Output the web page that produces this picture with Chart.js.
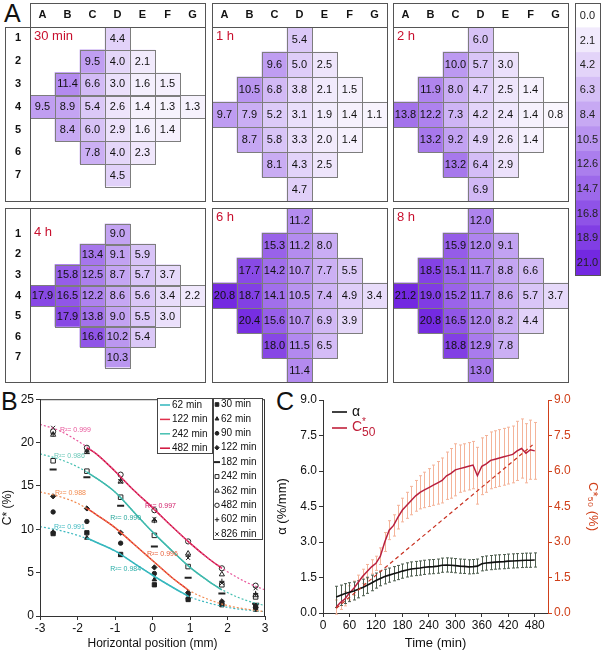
<!DOCTYPE html>
<html><head><meta charset="utf-8">
<script src="https://cdn.jsdelivr.net/npm/chart.js@4.4.0/dist/chart.umd.min.js"></script>
<style>
body{margin:0;background:#fff;width:602px;height:651px;position:relative;overflow:hidden;font-family:"Liberation Sans",Arial,sans-serif;}
canvas,.box,.big,.hdr{position:absolute;}
.box{border:1.5px solid #555;box-sizing:border-box;pointer-events:none;}
.hdr{border-bottom:1.5px solid #555;box-sizing:border-box;pointer-events:none;}
.big{font-size:25px;line-height:25px;color:#111;}
</style></head><body>
<div class="big" style="left:4px;top:1px">A</div>
<div class="big" style="left:1px;top:389px">B</div>
<div class="big" style="left:276px;top:389px">C</div>
<script>
// ---------------- DATA ----------------
const colLabels = ['A','B','C','D','E','F','G'];
const rowLabels = ['1','2','3','4','5','6','7'];
const panelTitles = ['30 min','1 h','2 h','4 h','6 h','8 h'];
const heat30 = [
 [null,null,null,4.4,null,null,null],
 [null,null,9.5,4.0,2.1,null,null],
 [null,11.4,6.6,3.0,1.6,1.5,null],
 [9.5,8.9,5.4,2.6,1.4,1.3,1.3],
 [null,8.4,6.0,2.9,1.6,1.4,null],
 [null,null,7.8,4.0,2.3,null,null],
 [null,null,null,4.5,null,null,null]];
const heat1h = [
 [null,null,null,5.4,null,null,null],
 [null,null,9.6,5.0,2.5,null,null],
 [null,10.5,6.8,3.8,2.1,1.5,null],
 [9.7,7.9,5.2,3.1,1.9,1.4,1.1],
 [null,8.7,5.8,3.3,2.0,1.4,null],
 [null,null,8.1,4.3,2.5,null,null],
 [null,null,null,4.7,null,null,null]];
const heat2h = [
 [null,null,null,6.0,null,null,null],
 [null,null,10.0,5.7,3.0,null,null],
 [null,11.9,8.0,4.7,2.5,1.4,null],
 [13.8,12.2,7.3,4.2,2.4,1.4,0.8],
 [null,13.2,9.2,4.9,2.6,1.4,null],
 [null,null,13.2,6.4,2.9,null,null],
 [null,null,null,6.9,null,null,null]];
const heat4h = [
 [null,null,null,9.0,null,null,null],
 [null,null,13.4,9.1,5.9,null,null],
 [null,15.8,12.5,8.7,5.7,3.7,null],
 [17.9,16.5,12.2,8.6,5.6,3.4,2.2],
 [null,17.9,13.8,9.0,5.5,3.0,null],
 [null,null,16.6,10.2,5.4,null,null],
 [null,null,null,10.3,null,null,null]];
const heat6h = [
 [null,null,null,11.2,null,null,null],
 [null,null,15.3,11.2,8.0,null,null],
 [null,17.7,14.2,10.7,7.7,5.5,null],
 [20.8,18.7,14.1,10.5,7.4,4.9,3.4],
 [null,20.4,15.6,10.7,6.9,3.9,null],
 [null,null,18.0,11.5,6.5,null,null],
 [null,null,null,11.4,null,null,null]];
const heat8h = [
 [null,null,null,12.0,null,null,null],
 [null,null,15.9,12.0,9.1,null,null],
 [null,18.5,15.1,11.7,8.8,6.6,null],
 [21.2,19.0,15.2,11.7,8.6,5.7,3.7],
 [null,20.8,16.5,12.0,8.2,4.4,null],
 [null,null,18.8,12.9,7.8,null,null],
 [null,null,null,13.0,null,null,null]];
const scaleLabels = [0.0,2.1,4.2,6.3,8.4,10.5,12.6,14.7,16.8,18.9,21.0];

// Panel B
const posX = [-2.65,-1.75,-0.85,0.05,0.95,1.85,2.75];
const seriesNames = ['30 min','62 min','90 min','122 min','182 min','242 min','362 min','482 min','602 min','826 min'];
const c30  = [9.5,9.6,7.1,3.6,1.9,1.3,1.1];
const c62  = [9.7,9.0,7.0,4.2,2.1,1.4,0.7];
const c90  = [12.0,10.9,8.4,4.9,2.5,1.5,0.8];
const c122 = [13.8,12.4,9.6,5.6,2.7,1.7,1.0];
const c182 = [16.9,16.0,12.7,8.0,4.4,2.6,1.4];
const c242 = [17.9,16.7,13.7,9.3,5.7,3.6,2.2];
const c362 = [20.9,18.9,15.5,11.0,7.2,4.8,2.4];
const c482 = [21.3,19.4,16.3,12.2,8.6,5.5,3.5];
const c602 = [21.0,19.0,15.7,11.0,6.9,4.0,2.6];
const c826 = [21.7,18.9,15.5,11.2,6.7,3.8,3.2];
const fitX = [-3,-2.5,-2,-1.5,-1,-0.5,0,0.5,1,1.5,2,2.5,3];
const fit482 = [22.1,21.4,20.2,18.7,16.7,14.5,12.5,10.4,8.4,6.6,5.1,3.9,3.0];
const fit242 = [18.7,18.1,17.2,15.9,14.3,12.0,9.7,7.6,5.6,4.0,2.7,1.8,1.2];
const fit122 = [14.3,13.8,13.0,11.7,10.2,8.3,6.4,4.5,2.9,1.9,1.2,0.8,0.5];
const fit62  = [10.3,9.9,9.3,8.5,7.5,6.1,4.7,3.4,2.2,1.5,1.0,0.7,0.5];
const solidXLong = [-1.75,-1.5,-1,-0.5,0,0.5,1,1.5,1.85];
const solidXShort = [-1.75,-1.5,-1,-0.5,0,0.5,0.95];
const solid482 = [19.4,18.7,16.7,14.5,12.5,10.4,8.4,6.6,5.5];
const solid242 = [16.6,15.9,14.3,12.0,9.7,7.6,5.6,4.0,3.0];
const solid122 = [12.4,11.7,10.2,8.3,6.4,4.5,3.0];
const solid62  = [9.0,8.5,7.5,6.1,4.7,3.4,2.3];
const lineLegend = ['62 min','122 min','242 min','482 min'];
const r2Labels = ['R²= 0.999','R²= 0.986','R²= 0.988','R²= 0.991','R²= 0.997','R²= 0.990','R²= 0.996','R²= 0.984'];
const r2X = [-2.47,-2.63,-2.6,-2.63,-0.2,-1.13,-0.15,-1.13];
const r2Y = [21.4,18.5,14.2,10.3,12.7,11.3,7.1,5.4];

// Panel C
const timeMin = [30,40,50,60,70,80,90,100,110,120,130,140,150,160,170,180,190,200,210,220,230,240,250,260,270,280,290,300,310,320,330,340,350,360,370,380,390,400,410,420,430,440,450,460,470,480];
const alphaMean = [0.68,0.75,0.82,0.88,0.93,1.0,1.08,1.17,1.27,1.37,1.46,1.54,1.6,1.66,1.71,1.77,1.82,1.86,1.88,1.9,1.93,1.95,1.96,1.98,2.02,2.03,2.02,2.0,1.98,1.97,1.95,1.96,1.98,2.08,2.11,2.13,2.15,2.16,2.17,2.19,2.2,2.21,2.22,2.23,2.23,2.24];
const alphaErr = [0.45,0.43,0.42,0.4,0.38,0.36,0.35,0.34,0.33,0.32,0.31,0.31,0.3,0.3,0.3,0.3,0.3,0.3,0.3,0.3,0.3,0.3,0.3,0.3,0.3,0.3,0.3,0.3,0.3,0.3,0.3,0.3,0.3,0.3,0.3,0.3,0.3,0.3,0.3,0.3,0.3,0.3,0.3,0.3,0.3,0.3];
const c50Mean = [0.25,0.45,0.6,0.85,1.05,1.3,1.55,1.75,1.95,2.1,2.4,3.0,3.5,3.7,4.05,4.35,4.55,4.75,4.95,5.1,5.2,5.3,5.4,5.5,5.6,5.8,5.9,6.05,6.1,6.15,6.2,6.25,5.8,6.2,6.3,6.45,6.5,6.55,6.6,6.65,6.7,6.85,6.95,6.75,6.9,6.85];
const c50Err = [0.3,0.3,0.3,0.3,0.3,0.3,0.3,0.3,0.3,0.3,0.35,0.4,0.4,0.45,0.5,0.5,0.55,0.6,0.65,0.7,0.75,0.8,0.85,0.9,0.95,1.0,1.05,1.1,1.0,1.0,1.0,1.0,1.2,1.2,1.2,1.2,1.2,1.2,1.2,1.2,1.2,1.25,1.25,1.25,1.25,1.2];
const c50TrendT = [30,475];
const c50TrendV = [0.2,7.1];
const timeTicks = [0,60,120,180,240,300,360,420,480];
const yTicksC = [0,1.5,3,4.5,6,7.5,9];

// ---------------- HELPERS ----------------
Chart.defaults.font.family = '"Liberation Sans", Arial, sans-serif';
Chart.defaults.color = '#111';
Chart.defaults.animation = false;
Chart.defaults.plugins.legend.display = false;
Chart.defaults.plugins.tooltip.enabled = false;

function colorFor(v){
  const t = Math.max(0, Math.min(1, v/21));
  const a=[255,255,255], b=[115,40,225];
  return 'rgb('+a.map((c,i)=>Math.round(c+(b[i]-c)*t)).join(',')+')';
}
function mkCanvas(l,t,w,h){
  const c=document.createElement('canvas');
  c.width=w;c.height=h;c.style.left=l+'px';c.style.top=t+'px';c.style.width=w+'px';c.style.height=h+'px';
  document.body.appendChild(c);return c;
}
function mkDiv(cls,l,t,w,h){
  const d=document.createElement('div');d.className=cls;
  d.style.left=l+'px';d.style.top=t+'px';d.style.width=w+'px';d.style.height=h+'px';
  document.body.appendChild(d);return d;
}

const cellPlugin = {
  id:'cells',
  afterDatasetsDraw(chart){
    const ctx=chart.ctx;
    ctx.save();
    chart.data.datasets.forEach((ds,di)=>{
      const meta=chart.getDatasetMeta(di);
      meta.data.forEach((el,i)=>{
        const v=ds.vals[i]; if(v==null) return;
        const top=Math.min(el.y,el.base), h=Math.abs(el.y-el.base);
        const left=el.x-el.width/2;
        ctx.strokeStyle='#7d7d7d';ctx.lineWidth=1;
        ctx.strokeRect(Math.round(left)+0.5,Math.round(top)+0.5,Math.round(el.width),Math.round(h));
        ctx.fillStyle='#111';ctx.font='11px "Liberation Sans", Arial';
        ctx.textAlign='center';ctx.textBaseline='middle';
        ctx.fillText(v.toFixed(1),el.x,top+h/2+0.5);
      });
    });
    const t=chart.options.plugins.cells.title;
    ctx.fillStyle='#c8102e';ctx.font='13px "Liberation Sans", Arial';ctx.textAlign='left';ctx.textBaseline='middle';
    ctx.fillText(t,chart.chartArea.left+4,chart.chartArea.top+9);
    ctx.restore();
  }
};

// ---------------- PANEL A ----------------
const heats=[heat30,heat1h,heat2h,heat4h,heat6h,heat8h];
const gxs=[30,212,393], gys=[27,208];
heats.forEach((hm,pi)=>{
  const r=Math.floor(pi/3), c=pi%3;
  const showX = r===0, showY = c===0;
  const gx=gxs[c], gy=gys[r];
  const left = showY? gx-25 : gx, top = showX? gy-24 : gy;
  const w = 175+(showY?25:0), h = 175+(showX?24:0);
  const cv=mkCanvas(left,top,w,h);
  new Chart(cv,{
    type:'bar',
    data:{labels:colLabels,datasets:hm.map((row,ri)=>({
      data:row.map(v=>v==null?null:[ri+0.5,ri+1.5]),
      vals:row,
      backgroundColor:row.map(v=>v==null?'rgba(0,0,0,0)':colorFor(v)),
      borderWidth:0,grouped:false,barPercentage:1,categoryPercentage:1
    }))},
    options:{responsive:false,devicePixelRatio:1,layout:{padding:0,autoPadding:false},
      plugins:{cells:{title:panelTitles[pi]}},
      scales:{
        x:{display:showX,position:'top',grid:{display:false,drawTicks:false},border:{display:false},
           ticks:{font:{size:11,weight:'bold'},color:'#111',padding:5},afterFit:s=>{s.height=showX?24:0;}},
        y:{display:showY,min:0.5,max:7.5,reverse:true,grid:{display:false,drawTicks:false},border:{display:false},
           afterBuildTicks:s=>{s.ticks=rowLabels.map((l,i)=>({value:i+1}));},
           ticks:{font:{size:11,weight:'bold'},color:'#111',padding:9,callback:(v)=>rowLabels[v-1]},
           afterFit:s=>{s.width=showY?25:0;}}
      }},
    plugins:[cellPlugin]
  });
  if(showY) mkDiv('box',5,gy,26,175);
  mkDiv('box',gx,top,176,h);
  if(showX) mkDiv('hdr',gx,top,176,25);
});

// colour bar
{
  const cv=mkCanvas(575,3,25,272);
  new Chart(cv,{
    type:'bar',
    data:{labels:scaleLabels.map(v=>v.toFixed(1)),datasets:[{data:scaleLabels.map(()=>1),backgroundColor:scaleLabels.map(v=>colorFor(v)),barPercentage:1,categoryPercentage:1,borderWidth:0}]},
    options:{indexAxis:'y',responsive:false,devicePixelRatio:1,layout:{padding:0,autoPadding:false},
      scales:{x:{display:false,min:0,max:1,afterFit:s=>{s.height=0;}},y:{display:false,afterFit:s=>{s.width=0;}}}},
    plugins:[{id:'cbl',afterDatasetsDraw(chart){
      const ctx=chart.ctx;ctx.save();ctx.fillStyle='#222';ctx.font='11px "Liberation Sans", Arial';ctx.textAlign='center';ctx.textBaseline='middle';
      chart.getDatasetMeta(0).data.forEach((el,i)=>{ctx.fillText(chart.data.labels[i],chart.chartArea.left+chart.chartArea.width/2,el.y+0.5);});
      ctx.restore();}}]
  });
  mkDiv('box',575,3,26,273);
}

// ---------------- PANEL B ----------------
{
  const cv=mkCanvas(0,390,272,261);
  const pts=(arr)=>posX.map((x,i)=>({x,y:arr[i]}));
  const curve=(xs,ys)=>xs.map((x,i)=>({x,y:ys[i]}));
  const mk=[
    {d:c30,s:'rect',f:true,r:3},{d:c62,s:'triangle',f:true,r:2.6},{d:c90,s:'circle',f:true,r:2.2},
    {d:c122,s:'rectRot',f:true,r:2.6},{d:c182,s:'line',f:false,r:3.5,bw:2},{d:c242,s:'rect',f:false,r:3.2},
    {d:c362,s:'triangle',f:false,r:3},{d:c482,s:'circle',f:false,r:2.6},{d:c602,s:'cross',f:false,r:2.6},{d:c826,s:'crossRot',f:false,r:2.8}];
  const lineDs=(xs,ys,col,dash,bw)=>({data:curve(xs,ys),showLine:true,borderColor:col,borderWidth:bw,borderDash:dash,pointRadius:0,tension:0.4,cubicInterpolationMode:'monotone'});
  const datasets=[
    lineDs(fitX,fit482,'#e8559a',[2,2],1.2),
    lineDs(fitX,fit242,'#45bfb0',[2,2],1.2),
    lineDs(fitX,fit122,'#f28a4e',[2,2],1.2),
    lineDs(fitX,fit62,'#3fb9c0',[2,2],1.2),
    lineDs(solidXLong,solid482,'#d0103a',[],1.5),
    lineDs(solidXLong,solid242,'#35b3a8',[],1.5),
    lineDs(solidXShort,solid122,'#e0302c',[],1.5),
    lineDs(solidXShort,solid62,'#30b6bc',[],1.5),
  ];
  mk.forEach(m=>datasets.push({data:pts(m.d),pointStyle:m.s,pointRadius:m.r,pointBorderWidth:m.bw||1,
    pointBackgroundColor:m.f?'#222':'rgba(255,255,255,0)',pointBorderColor:'#222',showLine:false}));
  const lineCols=['#30b6bc','#e0304c','#45bfb0','#d0103a'];
  const r2Cols=['#e8559a','#6cc8b8','#f28a4e','#3fb9c0','#d0206a','#2aa89c','#e8603a','#2aaea8'];
  new Chart(cv,{
    type:'scatter',
    data:{datasets},
    options:{responsive:false,devicePixelRatio:1,layout:{padding:{top:3,right:7,left:0,bottom:0},autoPadding:false},
      scales:{
        x:{type:'linear',min:-3,max:3,afterBuildTicks:s=>{s.ticks=[-3,-2,-1,0,1,2,3].map(v=>({value:v}));},
           grid:{drawOnChartArea:false,tickLength:4,color:'#333'},border:{color:'#333'},
           ticks:{font:{size:12},color:'#111',padding:1},
           title:{display:true,text:'Horizontal position (mm)',font:{size:12},padding:{top:0,bottom:0}},
           afterFit:s=>{s.height=35;}},
        y:{min:0,max:25,afterBuildTicks:s=>{s.ticks=[0,5,10,15,20,25].map(v=>({value:v}));},
           grid:{drawOnChartArea:false,tickLength:4,color:'#333'},border:{color:'#333'},
           ticks:{font:{size:12},color:'#111',padding:2},
           title:{display:true,text:'C* (%)',font:{size:12},padding:{top:0,bottom:2}},
           afterFit:s=>{s.width=40;}}
      }},
    plugins:[{id:'bdeco',afterDraw(chart){
      const ctx=chart.ctx,a=chart.chartArea,xs=chart.scales.x,ys=chart.scales.y;
      ctx.save();
      ctx.strokeStyle='#333';ctx.lineWidth=1;ctx.strokeRect(a.left+0.5,a.top+0.5,a.width-1,a.height);
      ctx.font='7px "Liberation Sans", Arial';ctx.textAlign='left';ctx.textBaseline='middle';
      r2Labels.forEach((t,i)=>{ctx.fillStyle=r2Cols[i];ctx.fillText(t,xs.getPixelForValue(r2X[i]),ys.getPixelForValue(r2Y[i]));});
      ctx.fillStyle='#fff';ctx.fillRect(157,8,55,55);
      ctx.strokeStyle='#444';ctx.lineWidth=1;ctx.strokeRect(157.5,8.5,55,55);
      ctx.font='10px "Liberation Sans", Arial';
      lineLegend.forEach((t,i)=>{const y=15+i*14.4;ctx.strokeStyle=lineCols[i];ctx.lineWidth=1.5;ctx.beginPath();ctx.moveTo(160,y);ctx.lineTo(170,y);ctx.stroke();
        ctx.fillStyle='#111';ctx.fillText(t,172,y);});
      ctx.fillStyle='#fff';ctx.fillRect(213,8,49,141);
      ctx.strokeStyle='#444';ctx.lineWidth=1;ctx.strokeRect(213.5,8.5,49,141);
      seriesNames.forEach((t,i)=>{const y=14.5+i*14.4;const m=mk[i];
        ctx.fillStyle=m.f?'#222':'rgba(255,255,255,0)';ctx.strokeStyle='#222';ctx.lineWidth=m.bw||1;
        Chart.helpers.drawPoint(ctx,{pointStyle:m.s,radius:m.r*0.85,rotation:0,borderWidth:m.bw||1},217,y);
        ctx.fillStyle='#111';ctx.fillText(t,221,y);});
      ctx.restore();
    }}]
  });
}

// ---------------- PANEL C ----------------
{
  const cv=mkCanvas(275,390,327,261);
  const red='#d0401a';
  new Chart(cv,{
    type:'scatter',
    data:{datasets:[
      {data:c50TrendT.map((t,i)=>({x:t,y:c50TrendV[i]})),yAxisID:'y2',showLine:true,borderColor:'#c83020',borderWidth:1.2,borderDash:[4,3],pointRadius:0},
      {data:timeMin.map((t,i)=>({x:t,y:alphaMean[i]})),yAxisID:'y',showLine:true,borderColor:'#111',borderWidth:1.6,pointRadius:0},
      {data:timeMin.map((t,i)=>({x:t,y:c50Mean[i]})),yAxisID:'y2',showLine:true,borderColor:'#b8203e',borderWidth:1.5,pointRadius:0}
    ]},
    options:{responsive:false,devicePixelRatio:1,layout:{padding:{top:10,left:0,right:0,bottom:0},autoPadding:false},
      scales:{
        x:{type:'linear',min:0,max:510,afterBuildTicks:s=>{s.ticks=timeTicks.map(v=>({value:v}));},
           grid:{drawOnChartArea:false,tickLength:4,color:'#333'},border:{color:'#333'},
           ticks:{font:{size:12},color:'#111',padding:1},
           title:{display:true,text:'Time (min)',font:{size:13},padding:{top:0,bottom:0}},
           afterFit:s=>{s.height=38;}},
        y:{position:'left',min:0,max:9,afterBuildTicks:s=>{s.ticks=yTicksC.map(v=>({value:v}));},
           grid:{drawOnChartArea:false,tickLength:4,color:'#333'},border:{color:'#333'},
           ticks:{font:{size:12},color:'#111',padding:2,callback:v=>v.toFixed(1)},
           title:{display:true,text:'α (%/mm)',font:{size:13},padding:{top:0,bottom:2}},
           afterFit:s=>{s.width=48;}},
        y2:{position:'right',min:0,max:9,afterBuildTicks:s=>{s.ticks=yTicksC.map(v=>({value:v}));},
           grid:{drawOnChartArea:false,tickLength:4,color:red},border:{color:red},
           ticks:{font:{size:12},color:red,padding:2,callback:v=>v.toFixed(1)},
           title:{display:true,text:'C*₅₀ (%)',color:red,font:{size:13},padding:{top:2,bottom:0}},
           afterFit:s=>{s.width=54;}}
      }},
    plugins:[{id:'errs',beforeDatasetsDraw(chart){
      const ctx=chart.ctx,xs=chart.scales.x,y1=chart.scales.y,y2=chart.scales.y2;
      ctx.save();ctx.lineWidth=1;
      const bars=(m,e,ys,col)=>{ctx.strokeStyle=col;timeMin.forEach((t,i)=>{
        const x=Math.round(xs.getPixelForValue(t))+0.5,a=ys.getPixelForValue(m[i]+e[i]),b=ys.getPixelForValue(m[i]-e[i]);
        ctx.beginPath();ctx.moveTo(x,a);ctx.lineTo(x,b);ctx.moveTo(x-1.5,a);ctx.lineTo(x+1.5,a);ctx.moveTo(x-1.5,b);ctx.lineTo(x+1.5,b);ctx.stroke();});};
      bars(c50Mean,c50Err,y2,'#f4b49a');
      bars(alphaMean,alphaErr,y1,'#4f5f50');
      ctx.restore();
    },afterDraw(chart){
      const ctx=chart.ctx;ctx.save();
      ctx.lineWidth=1.6;ctx.strokeStyle='#111';ctx.beginPath();ctx.moveTo(57,22);ctx.lineTo(72,22);ctx.stroke();
      ctx.strokeStyle='#c0203a';ctx.beginPath();ctx.moveTo(57,38);ctx.lineTo(72,38);ctx.stroke();
      ctx.textAlign='left';ctx.textBaseline='middle';
      ctx.fillStyle='#111';ctx.font='14px "Liberation Sans", Arial';ctx.fillText('α',77,22);
      ctx.fillStyle='#c0203a';ctx.font='14px "Liberation Sans", Arial';ctx.fillText('C',77,37);
      ctx.font='10px "Liberation Sans", Arial';ctx.fillText('*',87,32);ctx.font='12px "Liberation Sans", Arial';ctx.fillText('50',87,43);
      ctx.restore();
    }}]
  });
}
</script>
</body></html>
